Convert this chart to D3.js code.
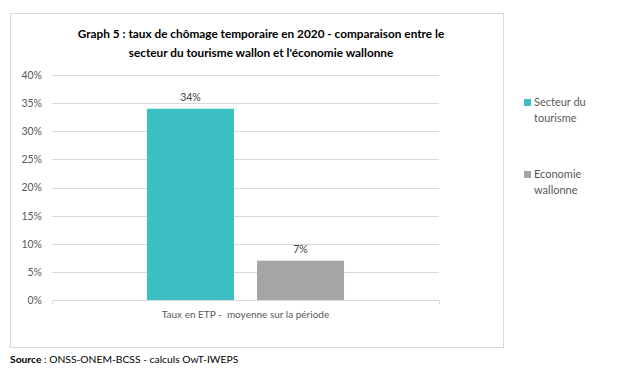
<!DOCTYPE html>
<html>
<head>
<meta charset="utf-8">
<script src="https://cdn.jsdelivr.net/npm/d3@7"></script>
<style>
  body { margin: 0; background: #fff; }
  svg { font-family: Lato, "Open Sans", sans-serif; }
</style>
</head>
<body>
<div id="chart-area"></div>
<script>
// data
var categories = ["Taux en ETP -  moyenne sur la période"];
var seriesNames = ["Secteur du tourisme", "Economie wallonne"];
var seriesValues = [34, 7];
var legendLines = [["Secteur du", "tourisme"], ["Economie", "wallonne"]];
var yTicks = [0, 5, 10, 15, 20, 25, 30, 35, 40];
var colors = ["#3cbfc2", "#a5a5a5"];

var margin = { top: 75, left: 52 };
var width = 439 - 52;
var height = 300 - 75;

var svg = d3.select("#chart-area")
    .append("svg")
    .attr("width", 619)
    .attr("height", 375);

// chart frame
svg.append("rect")
    .attr("x", 10.5).attr("y", 13.5)
    .attr("width", 493).attr("height", 334)
    .attr("fill", "#fff")
    .attr("stroke", "#d9d9d9");

svg.append("text")
    .attr("x", 261).attr("y", 38)
    .attr("text-anchor", "middle")
    .attr("font-size", "11.8px").attr("font-weight", "bold").attr("fill", "#000")
    .text("Graph 5 : taux de chômage temporaire en 2020 - comparaison entre le");
svg.append("text")
    .attr("x", 261).attr("y", 57)
    .attr("text-anchor", "middle")
    .attr("font-size", "11.8px").attr("font-weight", "bold").attr("fill", "#000")
    .text("secteur du tourisme wallon et l'économie wallonne");

var g = svg.append("g")
    .attr("transform", "translate(" + margin.left + "," + margin.top + ")");

var y = d3.scaleLinear().domain([0, 40]).range([height, 0]);
var x0 = d3.scaleBand().domain(categories).range([0, width]).paddingInner(0).paddingOuter(0.482);
var x1 = d3.scaleBand().domain(seriesNames).range([0, x0.bandwidth()]).paddingInner(0.209);

// grid
g.selectAll(".grid").data(yTicks.filter(d => d > 0)).enter().append("line")
    .attr("class", "grid")
    .attr("x1", 0).attr("x2", width)
    .attr("y1", d => Math.round(y(d)) + 0.5).attr("y2", d => Math.round(y(d)) + 0.5)
    .attr("stroke", "#d9d9d9");

var yAxis = g.append("g")
    .call(d3.axisLeft(y).tickValues(yTicks).tickSize(0).tickPadding(10).tickFormat(d => d + "%"));
yAxis.select(".domain").remove();
yAxis.selectAll("text").attr("font-size", "10.5px").attr("fill", "#595959").attr("font-family", "Lato, sans-serif");

var xAxis = g.append("g")
    .attr("transform", "translate(0," + height + ")")
    .call(d3.axisBottom(x0).tickSize(0).tickPadding(11).tickSizeOuter(4));
xAxis.select(".domain").attr("stroke", "#d9d9d9");
xAxis.selectAll("text").attr("font-size", "10px").attr("fill", "#595959")
    .attr("font-family", "Lato, sans-serif").style("white-space", "pre");

var cat = g.selectAll(".cat").data(categories).enter().append("g")
    .attr("transform", d => "translate(" + x0(d) + ",0)");

cat.selectAll("rect").data(seriesNames.map((s, i) => ({ name: s, value: seriesValues[i], color: colors[i] })))
    .enter().append("rect")
    .attr("x", d => x1(d.name))
    .attr("y", d => y(d.value))
    .attr("width", x1.bandwidth())
    .attr("height", d => height - y(d.value))
    .attr("fill", d => d.color);

cat.selectAll(".lbl").data(seriesNames.map((s, i) => ({ name: s, value: seriesValues[i] })))
    .enter().append("text")
    .attr("class", "lbl")
    .attr("x", d => x1(d.name) + x1.bandwidth() / 2)
    .attr("y", d => y(d.value) - 8)
    .attr("text-anchor", "middle")
    .attr("font-size", "10.5px").attr("fill", "#404040")
    .text(d => d.value + "%");

// legend
var legend = svg.selectAll(".legend").data(seriesNames).enter().append("g")
    .attr("transform", (d, i) => "translate(524," + (99 + i * 72) + ")");
legend.append("rect")
    .attr("width", 7).attr("height", 7)
    .attr("fill", (d, i) => colors[i]);
legend.append("text")
    .attr("x", 10).attr("y", 7)
    .attr("font-size", "11px").attr("fill", "#595959")
    .selectAll("tspan").data((d, i) => legendLines[i]).enter().append("tspan")
    .attr("x", 10).attr("dy", (d, j) => j === 0 ? 0 : 15.5)
    .text(d => d);

// source
var src = svg.append("text")
    .attr("x", 10).attr("y", 363)
    .attr("font-size", "10.3px").attr("fill", "#000");
src.append("tspan").attr("font-weight", "bold").text("Source");
src.append("tspan").text(" : ONSS-ONEM-BCSS - calculs OwT-IWEPS");
</script>
</body>
</html>
